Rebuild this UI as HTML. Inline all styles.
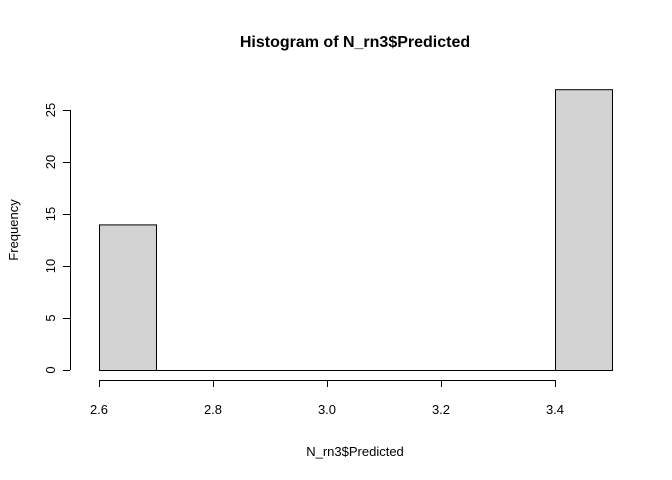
<!DOCTYPE html>
<html><head><meta charset="utf-8"><style>body{margin:0;background:#fff}svg{display:block;font-family:"Liberation Sans",Arial,sans-serif}</style></head>
<body>
<svg id="chart" width="672" height="480" viewBox="0 0 672 480">
<text x="355" y="47" text-anchor="middle" font-size="16" font-weight="bold">Histogram of N_rn3$Predicted</text>
<text x="355" y="456" text-anchor="middle" font-size="13">N_rn3$Predicted</text>
<text transform="translate(18,230) rotate(-90)" text-anchor="middle" font-size="13">Frequency</text>
<g id="bars"></g><g id="xaxis"></g><g id="yaxis"></g>
</svg>
<script>
const binEdges=[2.6,2.7,2.8,2.9,3.0,3.1,3.2,3.3,3.4,3.5];
const counts=[14,0,0,0,0,0,0,0,27];
const xTicks=[2.6,2.8,3.0,3.2,3.4];
const xTickLabels=["2.6","2.8","3.0","3.2","3.4"];
const yTicks=[0,5,10,15,20,25];
const yTickLabels=["0","5","10","15","20","25"];
const ns="http://www.w3.org/2000/svg";
const X=v=>99+(v-2.6)*570;
const Y=v=>370-v*10.4;
function mk(t,a,p){const e=document.createElementNS(ns,t);for(const k in a)e.setAttribute(k,a[k]);p.appendChild(e);return e;}
const bars=document.getElementById('bars');
counts.forEach((c,i)=>{
 const x0=X(binEdges[i]),x1=X(binEdges[i+1]);
 let r;
 if(c>0){
  r=mk('rect',{x:x0+0.5,y:Y(c)+0.5,width:x1-x0,height:Y(0)-Y(c),fill:'#d3d3d3',stroke:'#000','stroke-width':1},bars);
 } else {
  r=mk('line',{x1:x0+0.5,x2:x1+0.5,y1:Y(0)+0.5,y2:Y(0)+0.5,stroke:'#000','stroke-width':1},bars);
 }
 
 
});
const xa=document.getElementById('xaxis');
const xl=mk('line',{x1:X(xTicks[0]),x2:X(xTicks[xTicks.length-1]),y1:380.5,y2:380.5,stroke:'#000'},xa);


xTicks.forEach((v,i)=>{
 mk('line',{x1:X(v)+0.5,x2:X(v)+0.5,y1:380,y2:387,stroke:'#000'},xa);
 const t=mk('text',{x:X(v),y:414,'text-anchor':'middle','font-size':13},xa);
 t.textContent=xTickLabels[i];
 
 
});
const ya=document.getElementById('yaxis');
const yl=mk('line',{x1:70.5,x2:70.5,y1:Y(yTicks[0]),y2:Y(yTicks[yTicks.length-1]),stroke:'#000'},ya);


yTicks.forEach((v,i)=>{
 mk('line',{x1:63,x2:70,y1:Y(v)+0.5,y2:Y(v)+0.5,stroke:'#000'},ya);
 const t=mk('text',{transform:`translate(55,${Y(v)}) rotate(-90)`,'text-anchor':'middle','font-size':13},ya);
 t.textContent=yTickLabels[i];
 
 
});
</script>
</body></html>
